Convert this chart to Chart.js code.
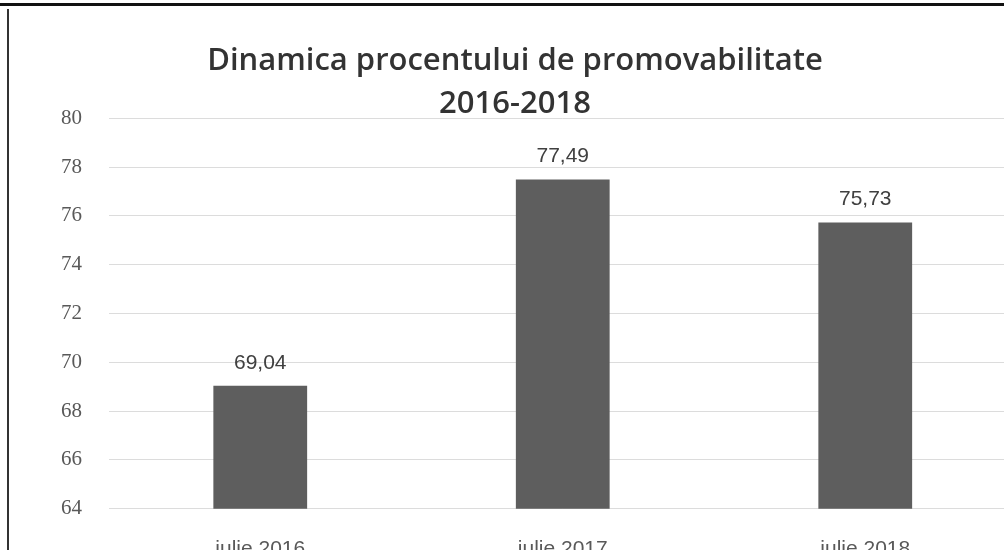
<!DOCTYPE html>
<html>
<head>
<meta charset="utf-8">
<script src="https://cdn.jsdelivr.net/npm/chart.js@4"></script>
<style>
  html, body { margin: 0; padding: 0; background: #fff; overflow: hidden; width: 1004px; height: 550px; }
  #topline { position: absolute; left: 0; top: 3px; width: 1004px; height: 3px; background: #111; z-index: 2; }
  #leftline { position: absolute; left: 7px; top: 9px; width: 2px; height: 560px; background: #333; z-index: 2; }
  #wrap { position: absolute; left: 9px; top: 9px; width: 1010px; height: 581px; }
</style>
</head>
<body>
<div id="topline"></div>
<div id="leftline"></div>
<div id="wrap"><canvas id="c"></canvas></div>
<script>
const categories = ["iulie 2016", "iulie 2017", "iulie 2018"];
const values = [69.04, 77.49, 75.73];
const titleLines = ["Dinamica procentului de promovabilitate", "2016-2018"];
const yMin = 64, yMax = 80, yStep = 2;

const valueLabels = {
  id: 'valueLabels',
  afterDatasetsDraw(chart) {
    const ctx = chart.ctx;
    const meta = chart.getDatasetMeta(0);
    ctx.save();
    ctx.font = '21px "Liberation Sans", sans-serif';
    ctx.fillStyle = '#404040';
    ctx.textAlign = 'center';
    ctx.textBaseline = 'middle';
    meta.data.forEach((bar, i) => {
      const txt = values[i].toFixed(2).replace('.', ',');
      ctx.fillText(txt, bar.x, bar.y - 23);
    });
    ctx.restore();
  }
};

new Chart(document.getElementById('c'), {
  type: 'bar',
  data: {
    labels: categories,
    datasets: [{
      data: values,
      backgroundColor: '#5e5e5e',
      borderWidth: 0,
      barPercentage: 1,
      categoryPercentage: 0.31
    }]
  },
  options: {
    responsive: true,
    maintainAspectRatio: false,
    animation: false,
    devicePixelRatio: 1,
    layout: { padding: { top: 0, left: 4.5, right: 2.5, bottom: 0 } },
    plugins: {
      legend: { display: false },
      tooltip: { enabled: false },
      title: {
        display: true,
        text: titleLines,
        color: '#333333',
        font: { family: '"Open Sans", sans-serif', size: 31, weight: '600', lineHeight: 1.39 },
        padding: { top: 31, bottom: -8 }
      }
    },
    scales: {
      x: {
        grid: { display: false, drawTicks: false },
        border: { display: false },
        ticks: { color: '#595959', font: { family: '"Liberation Sans", sans-serif', size: 21 }, padding: 28 }
      },
      y: {
        min: yMin, max: yMax,
        grid: { color: '#dcdcdc', lineWidth: 1, drawTicks: false },
        border: { display: false },
        afterFit(scale) { scale.width = 95.5; },
        ticks: { stepSize: yStep, color: '#595959', font: { family: '"Liberation Serif", serif', size: 21 }, padding: 27 }
      }
    }
  },
  plugins: [valueLabels]
});
</script>
</body>
</html>
